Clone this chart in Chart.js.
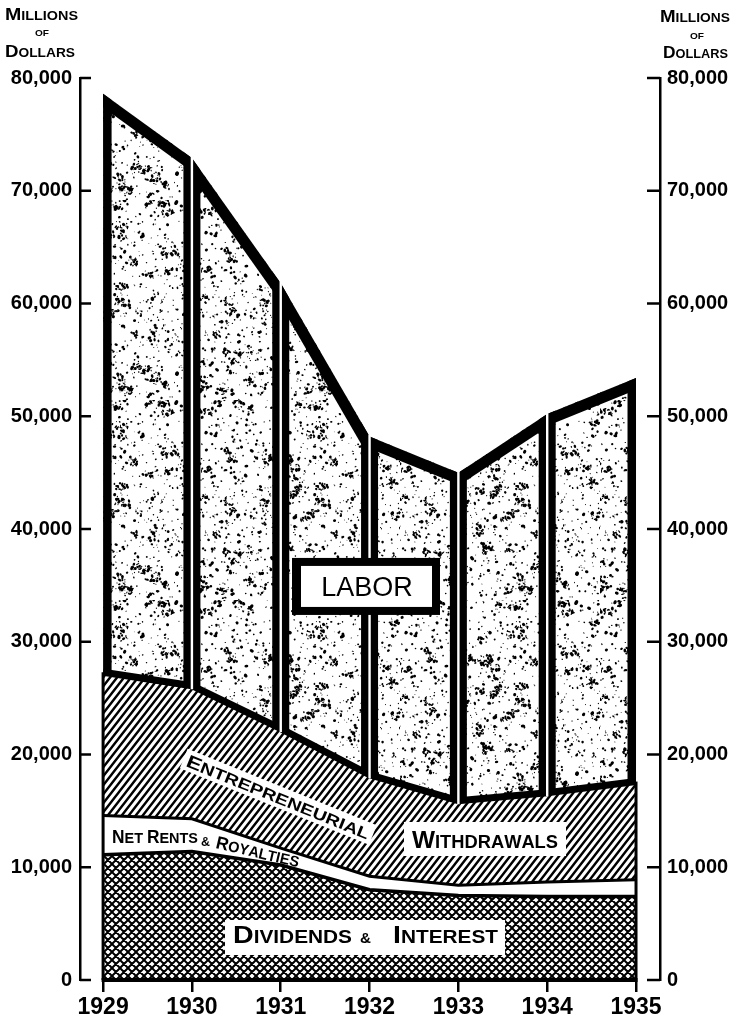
<!DOCTYPE html>
<html>
<head>
<meta charset="utf-8">
<script src="https://cdn.jsdelivr.net/npm/chart.js@4.4.1/dist/chart.umd.min.js"></script>
<style>
  html, body { margin: 0; padding: 0; background: #fff; }
  canvas { display: block; }
</style>
</head>
<body>
<canvas id="incomeChart" width="736" height="1021"></canvas>
<script>
/* Income paid out by type, 1929-1935 (millions of dollars), stacked from the bottom */
const YEARS = [1929, 1930, 1931, 1932, 1933, 1934, 1935];
const DIVIDENDS_INTEREST = [11100, 11400, 10200, 8000, 7500, 7400, 7400];
const NET_RENTS_ROYALTIES = [3500, 2900, 1500, 1200, 900, 1300, 1500];
const ENTREPRENEURIAL = [12700, 11800, 10600, 9000, 7500, 7900, 8700];
const LABOR = [51300, 46800, 39500, 30000, 29100, 33600, 35800];
const Y_TICKS = [0, 10000, 20000, 30000, 40000, 50000, 60000, 70000, 80000];

const SERIES = [DIVIDENDS_INTEREST, NET_RENTS_ROYALTIES, ENTREPRENEURIAL, LABOR];
const FONT = '"Liberation Sans", Arial, sans-serif';

// running top of the stack up to layer k
function stackTop(k) {
    return YEARS.map((_, i) => SERIES.slice(0, k + 1).reduce((s, arr) => s + arr[i], 0));
}
const points = arr => YEARS.map((yr, i) => ({ x: yr, y: arr[i] }));

/* ---------- fill patterns ---------- */
function tile(w, h, draw) {
    const c = document.createElement('canvas');
    c.width = w; c.height = h;
    const g = c.getContext('2d');
    g.fillStyle = '#fff';
    g.fillRect(0, 0, w, h);
    g.strokeStyle = '#000';
    g.fillStyle = '#000';
    draw(g);
    return g.createPattern(c, 'repeat');
}

// crosshatch for dividends & interest
const crossPattern = tile(8, 8, g => {
    g.lineWidth = 2;
    g.beginPath();
    [-8, 0, 8].forEach(d => {
        g.moveTo(d - 1, -1); g.lineTo(d + 9, 9);
        g.moveTo(d + 9, -1); g.lineTo(d - 1, 9);
    });
    g.stroke();
});

// diagonal hatch for entrepreneurial withdrawals
const hatchPattern = tile(7, 9, g => {
    g.lineWidth = 2.4;
    g.beginPath();
    [-7, 0, 7].forEach(d => {
        g.moveTo(d - 1, 9 + 9 / 7); g.lineTo(d + 8, -9 / 7);
    });
    g.stroke();
});

// speckled stipple for labor (fixed seed so every render is identical)
const stipplePattern = tile(200, 200, g => {
    let s = 20240611;
    const rnd = () => (s = (s * 16807) % 2147483647) / 2147483647;
    // loose clumps
    for (let c = 0; c < 70; c++) {
        const cx = rnd() * 200, cy = rnd() * 200;
        for (let j = 0; j < 9; j++) {
            g.beginPath();
            g.ellipse(cx + (rnd() - 0.5) * 9, cy + (rnd() - 0.5) * 7, 0.6 + rnd() * 1.6, 0.5 + rnd() * 1.1, rnd() * Math.PI, 0, Math.PI * 2);
            g.fill();
        }
    }
    // scattered specks
    for (let i = 0; i < 1100; i++) {
        const r = 0.45 + rnd() * rnd() * 1.6;
        g.beginPath();
        g.ellipse(rnd() * 200, rnd() * 200, r * (0.7 + rnd() * 0.8), r, rnd() * Math.PI, 0, Math.PI * 2);
        g.fill();
    }
});

/* ---------- small caps text helper ---------- */
function drawCaps(ctx, text, x, y, o) {
    const runs = [...text].map(ch => {
        const up = ch.toUpperCase();
        const size = (ch !== up || ch === ' ') ? o.small : o.big;
        return { ch: up, size };
    });
    let w = 0;
    runs.forEach(r => {
        ctx.font = `bold ${r.size}px ${FONT}`;
        r.w = ctx.measureText(r.ch).width;
        w += r.w;
    });
    const sx = o.width ? o.width / w : 1;
    ctx.save();
    ctx.translate(x, y);
    if (o.angle) ctx.rotate(o.angle * Math.PI / 180);
    if (o.align === 'center') ctx.translate(-w * sx / 2, 0);
    if (o.box) {
        const cap = o.big * 0.72;
        ctx.fillStyle = '#fff';
        ctx.fillRect(-o.box, -cap - o.box, w * sx + 2 * o.box, cap + 2 * o.box);
    }
    ctx.scale(sx, 1);
    ctx.fillStyle = '#000';
    ctx.textAlign = 'left';
    ctx.textBaseline = 'alphabetic';
    let cx = 0;
    runs.forEach(r => {
        ctx.font = `bold ${r.size}px ${FONT}`;
        ctx.fillText(r.ch, cx, 0);
        cx += r.w;
    });
    ctx.restore();
}

function line(ctx, x1, y1, x2, y2, width) {
    ctx.lineWidth = width;
    ctx.beginPath();
    ctx.moveTo(x1, y1);
    ctx.lineTo(x2, y2);
    ctx.stroke();
}

/* ---------- plugins ---------- */
// labor panels: thick black frame per year, thin white gap between panels
const laborPanels = {
    id: 'laborPanels',
    afterDatasetsDraw(chart) {
        const { ctx, scales: { x, y } } = chart;
        const X = YEARS.map(v => x.getPixelForValue(v));
        const B = stackTop(2).map(v => y.getPixelForValue(v));
        const T = stackTop(3).map(v => y.getPixelForValue(v));
        const Y0 = y.getPixelForValue(0);
        const n = YEARS.length;

        ctx.save();
        ctx.strokeStyle = '#000';
        ctx.lineCap = 'butt';

        for (let i = 0; i < n - 1; i++) {
            ctx.save();
            ctx.beginPath();
            ctx.moveTo(X[i], B[i]);
            ctx.lineTo(X[i], T[i]);
            ctx.lineTo(X[i + 1], T[i + 1]);
            ctx.lineTo(X[i + 1], B[i + 1]);
            ctx.closePath();
            ctx.clip();
            // sides
            line(ctx, X[i], B[i] + 30, X[i], T[i] - 30, 17);
            line(ctx, X[i + 1], B[i + 1] + 30, X[i + 1], T[i + 1] - 30, 17);
            // top, extended past the corners
            const k = (T[i + 1] - T[i]) / (X[i + 1] - X[i]);
            line(ctx, X[i] - 30, T[i] - 30 * k, X[i + 1] + 30, T[i + 1] + 30 * k, 22);
            ctx.restore();
        }

        // top edge of entrepreneurial withdrawals
        ctx.lineWidth = 7;
        ctx.lineJoin = 'miter';
        ctx.beginPath();
        X.forEach((px, i) => (i ? ctx.lineTo(px, B[i]) : ctx.moveTo(px, B[i])));
        ctx.stroke();

        // outer edges of the lower layers and baseline
        line(ctx, X[0], Y0, X[0], B[0], 3);
        line(ctx, X[n - 1], Y0, X[n - 1], B[n - 1], 3);
        line(ctx, X[0] - 1.5, Y0, X[n - 1] + 1.5, Y0, 4);

        // white gaps between panels
        ctx.fillStyle = '#fff';
        for (let i = 1; i < n - 1; i++) {
            ctx.fillRect(X[i] - 1.2, T[i] - 2, 2.4, B[i] - T[i] + 5.5);
        }
        ctx.restore();
    }
};

// inward tick marks on both value axes, titles and layer labels
const decorations = {
    id: 'decorations',
    afterDraw(chart) {
        const { ctx, scales: { x, y } } = chart;
        const area = chart.chartArea;
        ctx.save();
        ctx.strokeStyle = '#000';
        Y_TICKS.forEach(v => {
            const py = y.getPixelForValue(v);
            line(ctx, area.left, py, area.left + 11, py, 2.5);
            line(ctx, area.right - 13, py, area.right, py, 2.5);
        });

        // axis titles
        drawCaps(ctx, 'Millions', 5, 20, { big: 17, small: 12.5, width: 73 });
        drawCaps(ctx, 'of', 42, 36, { big: 9, small: 9, width: 14, align: 'center' });
        drawCaps(ctx, 'Dollars', 5, 57, { big: 17, small: 12.5, width: 70 });
        drawCaps(ctx, 'Millions', 660, 22, { big: 17, small: 12.5, width: 70 });
        drawCaps(ctx, 'of', 697, 39, { big: 9, small: 9, width: 14, align: 'center' });
        drawCaps(ctx, 'Dollars', 663, 58, { big: 17, small: 12.5, width: 65 });

        // LABOR box
        const lx = x.getPixelForValue(1931.96), ly = y.getPixelForValue(34950);
        ctx.fillStyle = '#000';
        ctx.fillRect(lx - 74, ly - 28, 148, 57);
        ctx.fillStyle = '#fff';
        ctx.fillRect(lx - 65, ly - 20, 131, 41);
        ctx.fillStyle = '#000';
        ctx.font = `27px ${FONT}`;
        ctx.textAlign = 'center';
        ctx.textBaseline = 'alphabetic';
        ctx.fillText('LABOR', lx + 1, ly + 10);

        // entrepreneurial withdrawals
        drawCaps(ctx, 'Entrepreneurial', 185, 766, { big: 18, small: 15.5, width: 196, angle: 22, box: 4 });
        ctx.fillStyle = '#fff';
        ctx.fillRect(404, 822, 162, 34);
        drawCaps(ctx, 'Withdrawals', 412, 848, { big: 24, small: 18, width: 146 });

        // net rents & royalties
        drawCaps(ctx, 'Net Rents', 112, 843, { big: 18, small: 15, width: 86 });
        drawCaps(ctx, '&', 201, 846, { big: 12, small: 12, width: 9 });
        drawCaps(ctx, 'Royalties', 215, 848, { big: 18, small: 15, width: 85, angle: 13 });

        // dividends & interest
        ctx.fillStyle = '#fff';
        ctx.fillRect(225, 920, 280, 35);
        drawCaps(ctx, 'Dividends', 233, 943, { big: 24, small: 17.5, width: 119 });
        drawCaps(ctx, '&', 360, 943, { big: 15, small: 15, width: 11 });
        drawCaps(ctx, 'Interest', 393, 943, { big: 24, small: 17.5, width: 105 });
        ctx.restore();
    }
};

/* ---------- chart ---------- */
const tickFont = { family: FONT, weight: 'bold', size: 20 };
const valueAxis = (position, width, padding) => ({
    position,
    stacked: position === 'left',
    min: 0,
    max: 80000,
    grid: { display: false, drawTicks: false },
    border: { display: true, color: '#000', width: 2.5 },
    ticks: {
        stepSize: 10000,
        padding,
        color: '#000',
        font: tickFont,
        callback: v => v.toLocaleString('en-US')
    },
    afterBuildTicks: s => { s.ticks = Y_TICKS.map(v => ({ value: v })); },
    afterFit: s => { s.width = width; }
});

new Chart(document.getElementById('incomeChart').getContext('2d'), {
    type: 'line',
    data: {
        datasets: [
            { label: 'Dividends & Interest', data: points(DIVIDENDS_INTEREST), fill: 'origin',
              backgroundColor: crossPattern, borderColor: '#000', borderWidth: 3.5 },
            { label: 'Net Rents & Royalties', data: points(NET_RENTS_ROYALTIES), fill: '-1',
              backgroundColor: '#fff', borderColor: '#000', borderWidth: 3 },
            { label: 'Entrepreneurial Withdrawals', data: points(ENTREPRENEURIAL), fill: '-1',
              backgroundColor: hatchPattern, borderWidth: 0 },
            { label: 'Labor', data: points(LABOR), fill: '-1',
              backgroundColor: stipplePattern, borderWidth: 0 }
        ]
    },
    options: {
        responsive: false,
        animation: false,
        layout: { padding: { top: 78, left: 0, right: 0, bottom: 0 } },
        elements: { point: { radius: 0 }, line: { tension: 0, borderJoinStyle: 'miter' } },
        plugins: { legend: { display: false }, tooltip: { enabled: false } },
        scales: {
            x: {
                type: 'linear',
                min: 1928.74,
                max: 1935.27,
                grid: { display: true, drawOnChartArea: false, drawTicks: true, tickLength: 12, color: '#000', lineWidth: 2.5 },
                border: { display: false },
                ticks: { color: '#000', padding: 2, font: { family: FONT, weight: 'bold', size: 23 }, callback: v => String(v) },
                afterBuildTicks: s => { s.ticks = YEARS.map(v => ({ value: v })); },
                afterFit: s => { s.height = 41; }
            },
            y: valueAxis('left', 80, 8),
            y2: valueAxis('right', 76, 7)
        }
    },
    plugins: [laborPanels, decorations]
});
</script>
</body>
</html>
